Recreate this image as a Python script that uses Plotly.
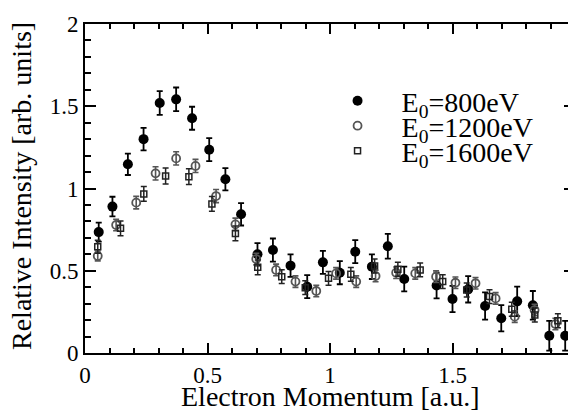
import plotly.graph_objects as go

# 800 eV (filled circles)
x800 = [0.056, 0.112, 0.175, 0.239, 0.305, 0.372, 0.437, 0.507, 0.573, 0.637,
        0.704, 0.767, 0.839, 0.907, 0.971, 1.040, 1.103, 1.171, 1.236, 1.303,
        1.435, 1.500, 1.564, 1.633, 1.699, 1.764, 1.828, 1.895, 1.960]
y800 = [0.735, 0.89, 1.147, 1.30, 1.52, 1.542, 1.427, 1.236, 1.056, 0.843,
        0.60, 0.626, 0.531, 0.403, 0.551, 0.488, 0.616, 0.525, 0.649, 0.45,
        0.41, 0.328, 0.387, 0.286, 0.211, 0.314, 0.29, 0.105, 0.105]
e800 = [0.058, 0.06, 0.065, 0.068, 0.072, 0.072, 0.07, 0.07, 0.068, 0.068,
        0.068, 0.07, 0.068, 0.07, 0.07, 0.07, 0.07, 0.075, 0.075, 0.075,
        0.078, 0.08, 0.08, 0.083, 0.08, 0.09, 0.087, 0.09, 0.09]

# 1200 eV (open circles)
x1200 = [0.052, 0.127, 0.209, 0.288, 0.372, 0.451, 0.535, 0.614, 0.699, 0.780,
         0.859, 0.944, 1.025, 1.107, 1.186, 1.270, 1.348, 1.433, 1.512, 1.594,
         1.676, 1.754, 1.835, 1.920, 1.998]
y1200 = [0.59, 0.778, 0.914, 1.092, 1.183, 1.137, 0.954, 0.782, 0.571, 0.505,
         0.434, 0.377, 0.484, 0.434, 0.468, 0.488, 0.484, 0.464, 0.427, 0.424,
         0.332, 0.221, 0.261, 0.176, 0.156]
e1200 = [0.03, 0.035, 0.038, 0.04, 0.04, 0.04, 0.04, 0.038, 0.035, 0.035,
         0.035, 0.035, 0.035, 0.035, 0.035, 0.035, 0.035, 0.035, 0.035, 0.035,
         0.035, 0.035, 0.035, 0.035, 0.035]

# 1600 eV (open squares)
x1600 = [0.052, 0.145, 0.240, 0.329, 0.424, 0.518, 0.614, 0.705, 0.803, 0.899,
         0.994, 1.085, 1.182, 1.277, 1.368, 1.460, 1.558, 1.651, 1.742, 1.836,
         1.930]
y1600 = [0.646, 0.758, 0.967, 1.076, 1.072, 0.906, 0.727, 0.521, 0.464, 0.397,
         0.454, 0.478, 0.529, 0.509, 0.505, 0.434, 0.383, 0.343, 0.266, 0.231,
         0.196]
e1600 = [0.04, 0.045, 0.045, 0.048, 0.048, 0.045, 0.045, 0.045, 0.042, 0.042,
         0.042, 0.042, 0.042, 0.042, 0.042, 0.042, 0.042, 0.042, 0.042, 0.042,
         0.042]

tick_vals = [0, 0.5, 1, 1.5, 2]
tick_text = ["0", "0.5", "1", "1.5", "2"]

FONT = "Liberation Serif, Times New Roman, serif"
SP = "\u00a0\u00a0"

fig = go.Figure()
fig.add_trace(go.Scatter(
    x=x800, y=y800, mode="markers", name=SP + "E<sub>0</sub>=800eV", legend="legend",
    marker=dict(symbol="circle", size=10, color="black"),
    error_y=dict(type="data", array=e800, color="black", thickness=1.8, width=3),
))
fig.add_trace(go.Scatter(
    x=x1200, y=y1200, mode="markers", name=SP + "E<sub>0</sub>=1200eV", legend="legend2",
    marker=dict(symbol="circle-open", size=8, color="#555555", line=dict(width=1.8, color="#555555")),
    error_y=dict(type="data", array=e1200, color="#555555", thickness=1.6, width=3),
))
fig.add_trace(go.Scatter(
    x=x1600, y=y1600, mode="markers", name=SP + "E<sub>0</sub>=1600eV", legend="legend3",
    marker=dict(symbol="square-open", size=6, color="#222222", line=dict(width=1.5, color="#222222")),
    error_y=dict(type="data", array=e1600, color="#222222", thickness=1.5, width=3),
))

axis_common = dict(
    showline=True, linecolor="black", linewidth=2, mirror="ticks",
    ticks="inside", tickcolor="black", tickwidth=1.5,
    showgrid=False, zeroline=False, automargin=False,
    tickfont=dict(family=FONT, size=23, color="black"),
    range=[0, 2], tickvals=tick_vals, ticktext=tick_text,
)

fig.update_xaxes(
    ticklen=10,
    minor=dict(dtick=0.1, tick0=0, ticks="inside", ticklen=5, tickcolor="black", tickwidth=1.5),
    **axis_common,
)
fig.update_yaxes(
    ticklen=11,
    minor=dict(dtick=0.1, tick0=0, ticks="inside", ticklen=6, tickcolor="black", tickwidth=1.5),
    **axis_common,
)

leg_font = dict(family=FONT, size=28, color="black")
leg_common = dict(xanchor="left", yanchor="middle", bgcolor="rgba(0,0,0,0)",
                  borderwidth=0, font=leg_font, itemwidth=50)
LX = 0.495
fig.update_layout(
    width=568, height=404,
    margin=dict(l=77, r=1, t=16, b=59),
    paper_bgcolor="white", plot_bgcolor="white",
    showlegend=True,
    legend=dict(x=LX, y=(353 - 101) / 329, **leg_common),
    legend2=dict(x=LX, y=(353 - 126) / 329, **leg_common),
    legend3=dict(x=LX, y=(353 - 151) / 329, **leg_common),
    annotations=[
        dict(text="Electron Momentum [a.u.]", xref="paper", yref="paper",
             x=0.5, y=-(396 - 353) / 329, xanchor="center", yanchor="middle",
             showarrow=False, font=dict(family=FONT, size=28, color="black")),
        dict(text="Relative Intensity [arb. units]", xref="paper", yref="paper",
             x=-(85 - 21) / 490, y=(353 - 186) / 329, xanchor="center", yanchor="middle",
             textangle=-90, showarrow=False, font=dict(family=FONT, size=28, color="black")),
    ],
)

fig.write_html("out.html")
